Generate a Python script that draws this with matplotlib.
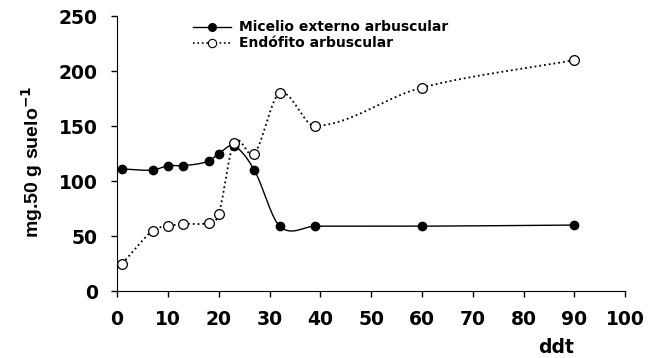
import matplotlib
matplotlib.use("Agg")
import matplotlib.pyplot as plt
import numpy as np

plt.rcParams['font.family'] = ['DejaVu Sans']

dias = [1, 7, 10, 13, 18, 20, 23, 27, 32, 39, 60, 90]
micelio = [111, 110, 114, 114, 118, 125, 132, 110, 59, 59, 59, 60]
endofito = [25, 55, 59, 61, 62, 70, 135, 125, 180, 150, 185, 210]


def suave(x, y, n=40):
    # cubic hermite through the points, tangents from neighbouring points
    x = np.asarray(x, float)
    y = np.asarray(y, float)
    m = np.zeros_like(y)
    m[1:-1] = (y[2:] - y[:-2]) / (x[2:] - x[:-2])
    m[0] = (y[1] - y[0]) / (x[1] - x[0])
    m[-1] = (y[-1] - y[-2]) / (x[-1] - x[-2])
    xs, ys = [], []
    for i in range(len(x) - 1):
        h = x[i + 1] - x[i]
        t = np.linspace(0, 1, n)
        h00 = 2 * t**3 - 3 * t**2 + 1
        h10 = t**3 - 2 * t**2 + t
        h01 = -2 * t**3 + 3 * t**2
        h11 = t**3 - t**2
        xs.append(x[i] + t * h)
        ys.append(h00 * y[i] + h10 * h * m[i] + h01 * y[i + 1] + h11 * h * m[i + 1])
    return np.concatenate(xs), np.concatenate(ys)


fig = plt.figure(figsize=(6.58, 3.58), dpi=100)
ax = fig.add_axes([0.178, 0.187, 0.772, 0.768])

xs, ys = suave(dias, micelio)
ax.plot(xs, ys, '-', color='black', linewidth=1)
ax.plot(dias, micelio, 'o', color='black', markersize=6)

xs, ys = suave(dias, endofito)
ax.plot(xs, ys, ':', color='black', linewidth=1.3)
ax.plot(dias, endofito, 'o', markerfacecolor='white', markeredgecolor='black',
        markersize=7, markeredgewidth=0.9)

# legend handles
l1, = ax.plot([], [], '-o', color='black', markersize=5.5, linewidth=1)
l2, = ax.plot([], [], ':o', color='black', markerfacecolor='white',
              markersize=6, linewidth=1.2, markeredgewidth=0.8)
ax.legend([l1, l2], ['Micelio externo arbuscular', 'Endófito arbuscular'],
          loc='upper left', bbox_to_anchor=(0.125, 1.03),
          frameon=False, prop={'weight': 'bold', 'size': 10},
          handlelength=2.7, handletextpad=0.6, labelspacing=0.15)

ax.set_xlim(0, 100)
ax.set_ylim(0, 250)
ax.set_xticks(range(0, 101, 10))
ax.set_yticks(range(0, 251, 50))
ax.spines['top'].set_visible(False)
ax.spines['right'].set_visible(False)
ax.tick_params(direction='out', length=4, width=1, labelsize=13.5)
ax.tick_params(axis='x', pad=10)
ax.tick_params(axis='y', pad=10)
for t in ax.get_xticklabels() + ax.get_yticklabels():
    t.set_fontweight('bold')

fig.text(0.048, 0.548, 'mg.50 g suelo$^{\\mathbf{-1}}$', rotation=90,
         fontsize=14, fontweight='bold', family='Liberation Sans',
         ha='center', va='center')
fig.text(0.845, 0.03, 'ddt', fontsize=13.5, fontweight='bold',
         ha='center', va='center')

fig.savefig('out.png', dpi=100)
